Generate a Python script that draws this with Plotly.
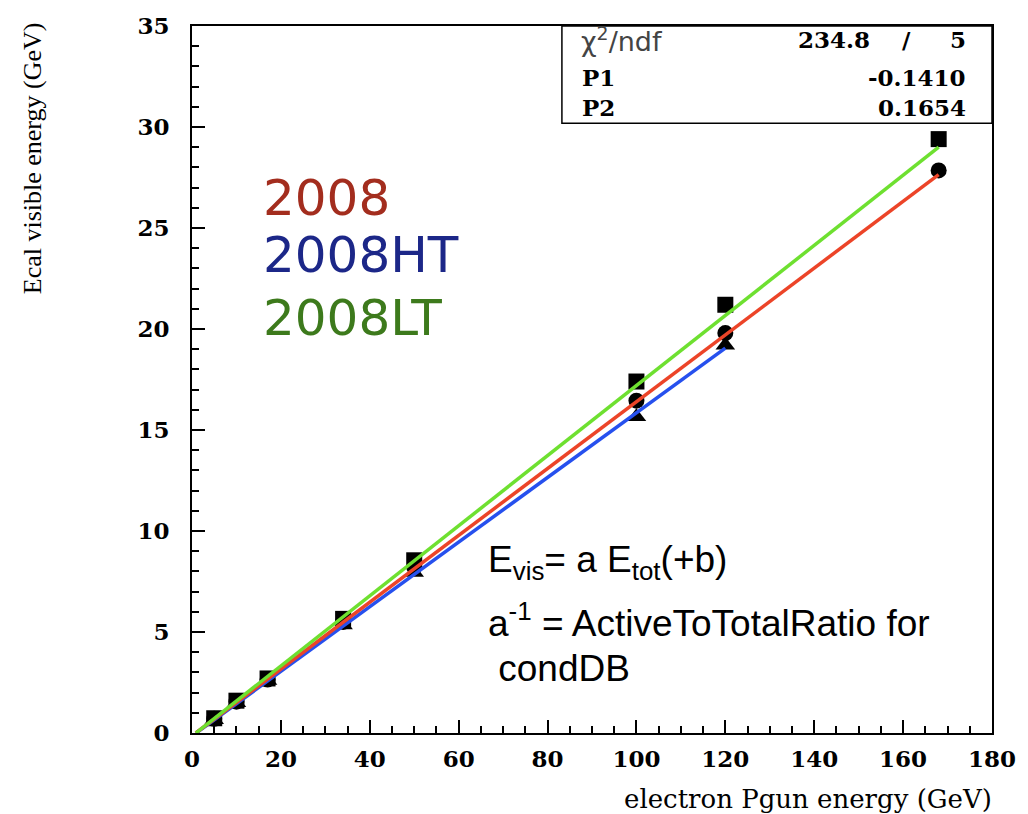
import plotly.graph_objects as go

# ---- data ----
energy = [5, 10, 17, 34, 50, 100, 120, 168]
vis_2008 = [0.70, 1.55, 2.65, 5.50, 8.20, 16.45, 19.80, 27.85]
vis_2008LT = [0.73, 1.60, 2.70, 5.65, 8.55, 17.40, 21.20, 29.40]
energy_HT = [5, 10, 17, 34, 50, 100, 120]
vis_2008HT = [0.65, 1.50, 2.60, 5.35, 7.95, 15.65, 19.20]

# linear fits y = p2 * x + p1
fit_2008 = {"p1": -0.1410, "p2": 0.1654, "xmax": 168}
fit_LT = {"p1": -0.15, "p2": 0.1735, "xmax": 168}
fit_HT = {"p1": -0.15, "p2": 0.1600, "xmax": 120}

stats_rows = [("P1", "-0.1410"), ("P2", "0.1654")]
chi2, ndf = "234.8", "5"

W, H = 1028, 814
L, R, T, B = 192, 1003, 20, 733


def px(x):
    return (x - L) / (R - L)


def py(y):
    return (B - y) / (B - T)


def fit_line(f):
    x0 = -f["p1"] / f["p2"]
    xs = [x0, f["xmax"]]
    ys = [f["p2"] * x + f["p1"] for x in xs]
    return xs, ys


fig = go.Figure()

fig.add_trace(go.Scatter(x=energy_HT, y=vis_2008HT, mode="markers",
                         marker=dict(symbol="triangle-up", size=17, color="black"),
                         showlegend=False))
fig.add_trace(go.Scatter(x=energy, y=vis_2008, mode="markers",
                         marker=dict(symbol="circle", size=16, color="black"),
                         showlegend=False))
fig.add_trace(go.Scatter(x=energy, y=vis_2008LT, mode="markers",
                         marker=dict(symbol="square", size=16, color="black"),
                         showlegend=False))

for f, col in [(fit_HT, "#2650ee"), (fit_2008, "#ec4428"), (fit_LT, "#6ee030")]:
    xs, ys = fit_line(f)
    fig.add_trace(go.Scatter(x=xs, y=ys, mode="lines",
                             line=dict(color=col, width=3.5), showlegend=False))

axis_font = dict(family="DejaVu Serif", size=23, color="black", weight="bold")

fig.update_xaxes(range=[0, 180], dtick=20, tick0=0, ticks="inside", ticklen=13,
                 tickwidth=2, tickcolor="black", showline=True, linecolor="black",
                 linewidth=2, mirror=True, showgrid=False, zeroline=False,
                 tickfont=axis_font, ticklabelstandoff=4,
                 minor=dict(dtick=5, ticks="inside", ticklen=7, tickwidth=2,
                            tickcolor="black", showgrid=False))
fig.update_yaxes(range=[0, 35], dtick=5, tick0=0, ticks="inside", ticklen=13,
                 tickwidth=2, tickcolor="black", showline=True, linecolor="black",
                 linewidth=2, mirror=True, showgrid=False, zeroline=False,
                 tickfont=axis_font, ticklabelstandoff=16,
                 minor=dict(dtick=1, ticks="inside", ticklen=7, tickwidth=2,
                            tickcolor="black", showgrid=False))

ann = []
# axis titles
ann.append(dict(x=px(1005), y=py(800), xref="paper", yref="paper", xanchor="right",
                yanchor="middle", text="electron Pgun energy (GeV)", showarrow=False,
                font=dict(family="DejaVu Serif", size=26, color="black")))
ann.append(dict(x=px(30), y=py(14), xref="paper", yref="paper", xanchor="center",
                yanchor="top", text="Ecal visible energy (GeV)", textangle=-90,
                showarrow=False, font=dict(family="Liberation Serif", size=26, color="black")))

# series labels
for txt, yy, col in [("2008", 193, "#a32d1e"), ("2008HT", 251, "#1c2788"),
                     ("2008LT", 314, "#3d7a1c")]:
    ann.append(dict(x=px(262), y=py(yy), xref="paper", yref="paper", xanchor="left",
                    yanchor="middle", text=txt, showarrow=False,
                    font=dict(family="DejaVu Sans", size=50, color=col)))

# formula text
form_font = dict(family="Liberation Sans", size=37, color="black")
ann.append(dict(x=px(490), y=py(561), xref="paper", yref="paper", xanchor="left",
                yanchor="middle", text="E<sub>vis</sub>= a E<sub>tot</sub>(+b)",
                showarrow=False, font=form_font))
ann.append(dict(x=px(490), y=py(620), xref="paper", yref="paper", xanchor="left",
                yanchor="middle", text="a<sup>-1</sup> = ActiveToTotalRatio for",
                showarrow=False, font=form_font))
ann.append(dict(x=px(490), y=py(668), xref="paper", yref="paper", xanchor="left",
                yanchor="middle", text=" condDB", showarrow=False, font=form_font))

# stats box
stat_font = dict(family="DejaVu Serif", size=23, color="black")
ann.append(dict(x=px(584), y=py(34), xref="paper", yref="paper", xanchor="left",
                yanchor="middle", text="χ<sup>2</sup>/ndf", showarrow=False,
                font=dict(family="DejaVu Sans", size=27, color="#444444")))
ann.append(dict(x=px(881), y=py(34), xref="paper", yref="paper", xanchor="right",
                yanchor="middle", text="<b>" + chi2 + "</b>", showarrow=False, font=stat_font))
ann.append(dict(x=px(916), y=py(34), xref="paper", yref="paper", xanchor="center",
                yanchor="middle", text="<b>/</b>", showarrow=False, font=stat_font))
ann.append(dict(x=px(979), y=py(34), xref="paper", yref="paper", xanchor="right",
                yanchor="middle", text="<b>" + ndf + "</b>", showarrow=False, font=stat_font))
for (name, val), yy in zip(stats_rows, [72, 102]):
    ann.append(dict(x=px(585), y=py(yy), xref="paper", yref="paper", xanchor="left",
                    yanchor="middle", text="<b>" + name + "</b>", showarrow=False,
                    font=stat_font))
    ann.append(dict(x=px(979), y=py(yy), xref="paper", yref="paper", xanchor="right",
                    yanchor="middle", text="<b>" + val + "</b>", showarrow=False,
                    font=stat_font))

shapes = [dict(type="rect", xref="paper", yref="paper", x0=px(567), x1=px(1003),
               y0=py(118), y1=py(20), line=dict(color="black", width=1.5),
               fillcolor="white", layer="above")]

fig.update_layout(width=W, height=H, margin=dict(l=L, r=W - R, t=T, b=H - B),
                  plot_bgcolor="white", paper_bgcolor="white",
                  annotations=ann, shapes=shapes)

fig.write_html("out.html")
